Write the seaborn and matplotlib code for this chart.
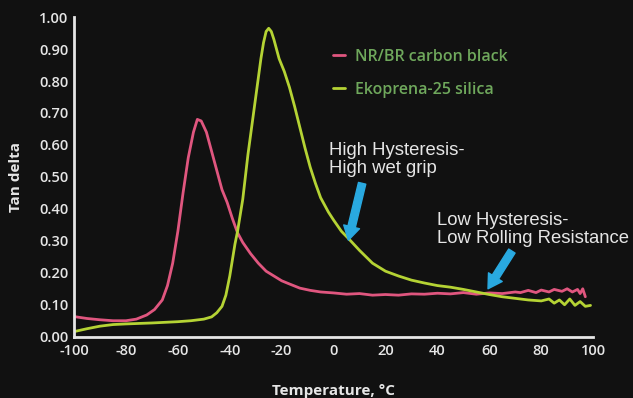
import matplotlib
matplotlib.use('Agg')
import matplotlib.pyplot as plt
import seaborn as sns
import pandas as pd

# NR/BR carbon black
nr_temp = [-100, -95, -90, -85, -80, -76, -72, -69, -66, -64, -62, -60, -58, -56, -54, -52.5,
           -51, -49, -47, -45, -43, -41, -39, -37, -35, -32, -29, -26, -23, -20, -17, -13, -9,
           -5, 0, 5, 10, 15, 20, 25, 30, 35, 40, 45, 50, 55, 60, 65, 70, 72, 75, 78, 80, 83,
           85, 88, 90, 92, 94, 95, 96, 97]
nr_tan = [0.063, 0.057, 0.053, 0.050, 0.050, 0.055, 0.068, 0.085, 0.115, 0.16, 0.23, 0.33,
          0.45, 0.56, 0.64, 0.68, 0.675, 0.64, 0.58, 0.52, 0.46, 0.42, 0.37, 0.325, 0.295,
          0.26, 0.23, 0.205, 0.19, 0.175, 0.165, 0.152, 0.145, 0.14, 0.137, 0.133, 0.135,
          0.13, 0.132, 0.13, 0.134, 0.133, 0.136, 0.134, 0.138, 0.133, 0.137, 0.135, 0.14,
          0.138, 0.145, 0.138, 0.146, 0.14, 0.148, 0.142, 0.15, 0.14, 0.148, 0.135, 0.15, 0.125]

# Ekoprena-25 silica
ek_temp = [-100, -95, -90, -85, -80, -70, -60, -55, -50, -47, -45, -43, -41.5, -40, -39, -38,
           -37, -36, -35, -34, -33, -32, -31, -30, -29, -28, -27, -26, -25, -24, -23, -22, -21,
           -20, -19, -17, -15, -13, -11, -9, -7, -5, -2, 0, 3, 6, 10, 15, 20, 25, 30, 35, 40,
           45, 50, 55, 60, 65, 70, 75, 80, 83, 85, 87, 89, 91, 93, 95, 97, 99]
ek_tan = [0.016, 0.025, 0.033, 0.038, 0.040, 0.043, 0.047, 0.050, 0.055, 0.062, 0.075, 0.095,
          0.13, 0.19, 0.24, 0.29, 0.33, 0.38, 0.43, 0.50, 0.57, 0.63, 0.69, 0.75, 0.81, 0.87,
          0.92, 0.955, 0.965, 0.955, 0.93, 0.90, 0.87, 0.85, 0.83, 0.78, 0.72, 0.655, 0.59,
          0.53, 0.48, 0.435, 0.39, 0.365, 0.33, 0.305, 0.27, 0.23, 0.205, 0.19, 0.177, 0.168,
          0.16, 0.155, 0.148, 0.14, 0.132, 0.125, 0.12, 0.115, 0.112, 0.118, 0.105, 0.115,
          0.10, 0.118, 0.098, 0.11, 0.095, 0.098]

x_ticks = [-100, -80, -60, -40, -20, 0, 20, 40, 60, 80, 100]
y_ticks = [0.0, 0.1, 0.2, 0.3, 0.4, 0.5, 0.6, 0.7, 0.8, 0.9, 1.0]

bg = '#111111'
fg = '#e6e6e6'
pink = '#e0567f'
green = '#b5d334'
blue = '#29a9e0'

sns.set_style('dark')
plt.rcParams['font.family'] = ['Open Sans', 'DejaVu Sans']
plt.rcParams['axes.unicode_minus'] = False

fig = plt.figure(figsize=(6.33, 3.98), dpi=100, facecolor=bg)
ax = fig.add_axes([0.117, 0.154, 0.82, 0.803])
ax.set_facecolor(bg)

df_nr = pd.DataFrame({'T': nr_temp, 'tan': nr_tan})
df_ek = pd.DataFrame({'T': ek_temp, 'tan': ek_tan})
sns.lineplot(data=df_nr, x='T', y='tan', color=pink, lw=2, ax=ax, label='NR/BR carbon black')
sns.lineplot(data=df_ek, x='T', y='tan', color=green, lw=2, ax=ax, label='Ekoprena-25 silica')

ax.set_xlim(-100, 100)
ax.set_ylim(0, 1.0)
ax.set_xticks(x_ticks)
ax.set_yticks(y_ticks)
ax.set_xticklabels([str(v) for v in x_ticks])
ax.set_yticklabels([f'{v:.2f}' for v in y_ticks])
ax.grid(False)
for s in ['top', 'right']:
    ax.spines[s].set_visible(False)
for s in ['left', 'bottom']:
    ax.spines[s].set_color(fg)
    ax.spines[s].set_linewidth(2)
ax.tick_params(axis='both', colors=fg, labelsize=10.5, width=1.5, length=3,
               direction='in')
ax.tick_params(axis='x', pad=5)
ax.tick_params(axis='y', pad=4)
for lbl in ax.get_xticklabels() + ax.get_yticklabels():
    lbl.set_fontweight('semibold')

ax.set_xlabel('Temperature, °C', color=fg, fontsize=11, fontweight='bold', labelpad=19)
ax.set_ylabel('Tan delta', color=fg, fontsize=11, fontweight='bold', labelpad=12)

leg = ax.legend(loc='upper left', bbox_to_anchor=(0.472, 0.945), frameon=False,
                handlelength=0.75, handletextpad=0.6, labelspacing=1.05,
                prop={'size': 11.5, 'weight': 'semibold'})
for t in leg.get_texts():
    t.set_color('#6fa85c')

ann_font = dict(family='Liberation Sans', color=fg, fontsize=13.3, linespacing=1.1)
ax.text(0.491, 0.50, 'High Hysteresis-\nHigh wet grip', transform=ax.transAxes,
        va='bottom', ha='left', **ann_font)
ax.text(0.70, 0.28, 'Low Hysteresis-\nLow Rolling Resistance', transform=ax.transAxes,
        va='bottom', ha='left', **ann_font)

arrow = dict(arrowstyle='simple,head_width=1.3,head_length=1.1,tail_width=0.6',
             color=blue, mutation_scale=9, shrinkA=0, shrinkB=0)
ax.annotate('', xy=(5.7, 0.302), xytext=(11.0, 0.48), arrowprops=arrow)
ax.annotate('', xy=(59.5, 0.15), xytext=(68.7, 0.268), arrowprops=arrow)

fig.savefig('out.png', dpi=100, facecolor=bg)
